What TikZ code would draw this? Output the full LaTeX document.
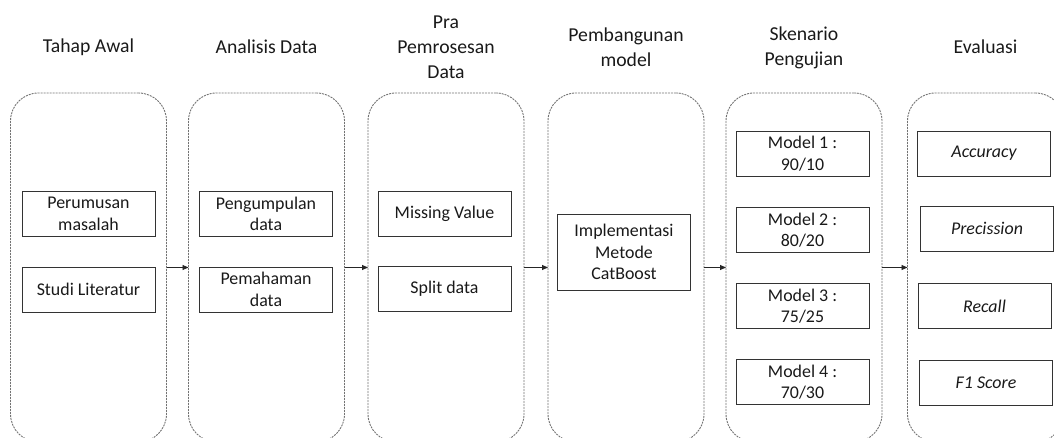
\documentclass[tikz,border=0pt]{standalone}
\usepackage{fontspec}
\setmainfont{Carlito}
\usetikzlibrary{arrows.meta}

\tikzset{
  stage/.style={draw=black!55, line width=0.9pt, dash pattern=on 2pt off 1pt,
    rounded corners=28pt, minimum width=156pt, minimum height=349pt,
    inner sep=0pt, outer sep=0pt},
  task/.style={draw=black!80, line width=0.9pt, minimum width=133pt, minimum height=45pt,
    inner sep=1pt, align=center, text=black!90,
    font=\fontsize{17.9}{21.6}\selectfont},
  title/.style={align=center, text=black!90, font=\fontsize{19.7}{24.8}\selectfont},
  flow/.style={draw=black!85, line width=0.9pt, -{Triangle[length=6pt,width=5pt]}}
}

\begin{document}
\begin{tikzpicture}[x=1pt,y=-1pt]
  \useasboundingbox (0,0) rectangle (1054,438);
  \clip (0,0) rectangle (1054,438);

  % stage columns
  \node[stage] (c1) at (88.5,267.5) {};
  \node[stage] (c2) at (266.5,267.5) {};
  \node[stage] (c3) at (446,267.5) {};
  \node[stage] (c4) at (626,267.5) {};
  \node[stage] (c5) at (804,267.5) {};
  \node[stage] (c6) at (985.5,267.5) {};

  % column headings
  \node[title] (h1) at (88.5,47) {Tahap Awal};
  \node[title] (h2) at (266.5,47) {Analisis Data};
  \node[title] (h3) at (446,47) {Pra\\Pemrosesan\\Data};
  \node[title] (h4) at (626,47) {Pembangunan\\model};
  \node[title] (h5) at (804,48) {Skenario\\Pengujian};
  \node[title] (h6) at (985.5,47) {Evaluasi};

  % tasks
  \node[task] (t11) at (88.5,214) {Perumusan\\masalah};
  \node[task] (t12) at (88.5,289.5) {Studi Literatur};

  \node[task] (t21) at (266,214) {Pengumpulan\\data};
  \node[task] (t22) at (266,289.5) {Pemahaman\\data};

  \node[task] (t31) at (444.5,213.5) {Missing Value};
  \node[task] (t32) at (444.5,289) {Split data};

  \node[task, minimum height=76pt] (t41) at (624,252) {Implementasi\\Metode\\CatBoost};

  \node[task] (t51) at (802.5,153.5) {Model 1 :\\90/10};
  \node[task] (t52) at (802.5,230) {Model 2 :\\80/20};
  \node[task] (t53) at (802.5,306) {Model 3 :\\75/25};
  \node[task] (t54) at (802.5,382) {Model 4 :\\70/30};

  \node[task] (t61) at (984,153.5) {\itshape Accuracy};
  \node[task] (t62) at (987,228.5) {\itshape Precission};
  \node[task] (t63) at (984.5,306) {\itshape Recall};
  \node[task] (t64) at (986,382.5) {\itshape F1 Score};

  % flow between stages
  \draw[flow] (c1.east) -- (c2.west);
  \draw[flow] (c2.east) -- (c3.west);
  \draw[flow] (c3.east) -- (c4.west);
  \draw[flow] (c4.east) -- (c5.west);
  \draw[flow] (c5.east) -- (c6.west);
\end{tikzpicture}
\end{document}
